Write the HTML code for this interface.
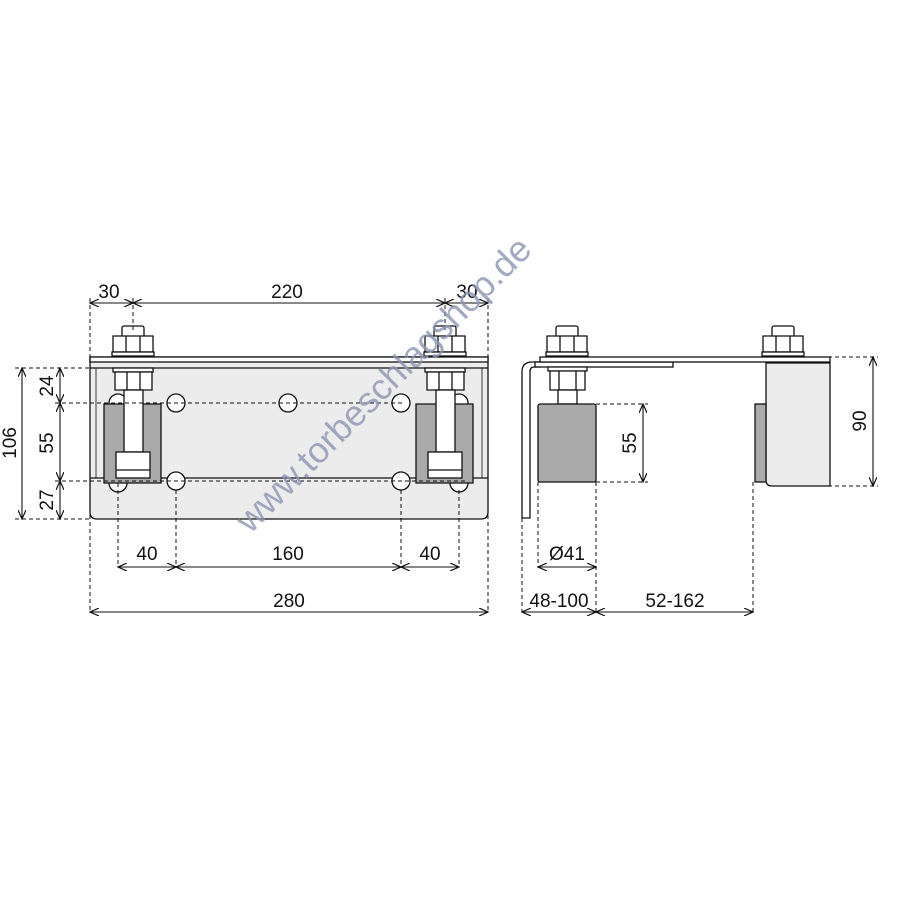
<!DOCTYPE html>
<html><head><meta charset="utf-8"><style>
html,body{margin:0;padding:0;background:#fff;width:900px;height:900px;overflow:hidden}
svg{display:block}
text{font-family:"Liberation Sans",sans-serif;font-size:19px;fill:#111}
</style></head><body>
<svg width="900" height="900" viewBox="0 0 900 900" xmlns="http://www.w3.org/2000/svg">
<defs>
<marker id="a" markerWidth="10" markerHeight="8" refX="9" refY="4" orient="auto-start-reverse" markerUnits="userSpaceOnUse"><path d="M0,0 L9,4 L0,8" fill="none" stroke="#111" stroke-width="1.2"/></marker>
<g id="nutTop">
<rect x="-11" y="-31" width="22" height="12" rx="2" fill="#fff" stroke="#111" stroke-width="1.3"/>
<path d="M-20,-21 h40 v16 h-40 z" fill="#fff" stroke="#111" stroke-width="1.3"/>
<path d="M-7,-21 v16 M7,-21 v16" stroke="#111"/>
<rect x="-21" y="-5" width="42" height="4" fill="#fff" stroke="#111"/>
</g>
</defs>
<g stroke="#111" stroke-width="1.3">
<path d="M90,357 H488 V512 Q488,519 481,519 H97 Q90,519 90,512 Z" fill="#ececec"/>
<rect x="90" y="357" width="398" height="5" fill="#fff"/>
<line x1="90" y1="368" x2="488" y2="368"/>
<line x1="90" y1="478" x2="488" y2="478"/>
<line x1="96" y1="368" x2="96" y2="478" stroke-width="0.8"/>
<line x1="482" y1="368" x2="482" y2="478" stroke-width="0.8"/>
<g fill="#fff">
<circle cx="176" cy="403" r="9"/><circle cx="288" cy="403" r="9"/><circle cx="401" cy="403" r="9"/>
<circle cx="176" cy="481" r="9"/><circle cx="401" cy="481" r="9"/>
<circle cx="118" cy="403" r="9"/><circle cx="459" cy="403" r="9"/>
<circle cx="118" cy="483" r="9"/><circle cx="459" cy="483" r="9"/>
</g>
<g id="wl">
<use href="#nutTop" x="133" y="357"/>
<rect x="113" y="368" width="40" height="4" fill="#fff"/>
<path d="M115,372 h37 v18 h-37z" fill="#fff"/>
<path d="M127,372 v18 M140,372 v18"/>
<path d="M104,404 H161 V483 H104 Z" fill="#aaa"/>
<rect x="124" y="390" width="19" height="62" fill="#fff"/>
<rect x="116" y="452" width="34" height="26" fill="#fff"/>
<line x1="116" y1="470" x2="150" y2="470"/>
</g>
<use href="#wl" x="312"/>
</g>
<g stroke="#111" stroke-width="1" stroke-dasharray="4,3" fill="none">
<path d="M90,298 V612 M133,298 V330 M445,298 V330 M488,298 V612"/>
<path d="M15,368 H90 M15,519 H90 M55,403 H405 M55,481 H465"/>
<path d="M118,483 V567 M176,490 V567 M401,490 V567 M459,490 V567"/>
<path d="M522,518 V612 M538,482 V567 M596,482 V612 M753,482 V612"/>
<path d="M596,404 H648 M596,482 H648 M828,357 H878 M828,486 H878"/>
</g>
<g stroke="#111" stroke-width="1.1" fill="none">
<line x1="90" y1="303" x2="133" y2="303" marker-start="url(#a)" marker-end="url(#a)"/>
<line x1="133" y1="303" x2="445" y2="303" marker-start="url(#a)" marker-end="url(#a)"/>
<line x1="445" y1="303" x2="488" y2="303" marker-start="url(#a)" marker-end="url(#a)"/>
<line x1="22" y1="368" x2="22" y2="519" marker-start="url(#a)" marker-end="url(#a)"/>
<line x1="60" y1="368" x2="60" y2="403" marker-start="url(#a)" marker-end="url(#a)"/>
<line x1="60" y1="403" x2="60" y2="481" marker-start="url(#a)" marker-end="url(#a)"/>
<line x1="60" y1="481" x2="60" y2="519" marker-start="url(#a)" marker-end="url(#a)"/>
<line x1="118" y1="567" x2="176" y2="567" marker-start="url(#a)" marker-end="url(#a)"/>
<line x1="176" y1="567" x2="401" y2="567" marker-start="url(#a)" marker-end="url(#a)"/>
<line x1="401" y1="567" x2="459" y2="567" marker-start="url(#a)" marker-end="url(#a)"/>
<line x1="90" y1="612" x2="488" y2="612" marker-start="url(#a)" marker-end="url(#a)"/>
<line x1="538" y1="567" x2="596" y2="567" marker-start="url(#a)" marker-end="url(#a)"/>
<line x1="522" y1="612" x2="596" y2="612" marker-start="url(#a)" marker-end="url(#a)"/>
<line x1="596" y1="612" x2="753" y2="612" marker-start="url(#a)" marker-end="url(#a)"/>
<line x1="643" y1="404" x2="643" y2="482" marker-start="url(#a)" marker-end="url(#a)"/>
<line x1="873" y1="357" x2="873" y2="486" marker-start="url(#a)" marker-end="url(#a)"/>
</g>
<g stroke="#111" stroke-width="1.3">
<path d="M530,370 V518 H522 V372 Q522,362 532,362 H540 V367 H534 Q530,367 530,372" fill="#fff"/>
<rect x="535" y="362" width="138" height="5" fill="#fff"/>
<rect x="540" y="357" width="290" height="5" fill="#fff"/>
<path d="M766,363 H830 V486 H772 Q766,486 766,480 Z" fill="#ececec"/>
<rect x="755" y="404" width="11" height="78" fill="#aaa"/>
<use href="#nutTop" x="567" y="357"/>
<use href="#nutTop" x="783" y="357"/>
<path d="M548,367 h39 v4 h-39z" fill="#fff"/>
<path d="M550,371 h35 v19 h-35z M559,371 v19 M576,371 v19" fill="#fff"/>
<rect x="558" y="390" width="19" height="14" fill="#fff"/>
<rect x="538" y="404" width="58" height="78" rx="2" fill="#aaa"/>
</g>
<text x="109" y="298" text-anchor="middle">30</text>
<text x="287" y="298" text-anchor="middle">220</text>
<text x="467" y="298" text-anchor="middle">30</text>
<text x="147" y="560" text-anchor="middle">40</text>
<text x="288" y="560" text-anchor="middle">160</text>
<text x="430" y="560" text-anchor="middle">40</text>
<text x="289" y="607" text-anchor="middle">280</text>
<text x="567" y="560" text-anchor="middle">Ø41</text>
<text x="559" y="607" text-anchor="middle">48-100</text>
<text x="675" y="607" text-anchor="middle">52-162</text>
<text transform="translate(16,443) rotate(-90)" text-anchor="middle">106</text>
<text transform="translate(53,386) rotate(-90)" text-anchor="middle">24</text>
<text transform="translate(53,443) rotate(-90)" text-anchor="middle">55</text>
<text transform="translate(53,500) rotate(-90)" text-anchor="middle">27</text>
<text transform="translate(636,443) rotate(-90)" text-anchor="middle">55</text>
<text transform="translate(866,421) rotate(-90)" text-anchor="middle">90</text>
<text transform="translate(392,393) rotate(-45)" text-anchor="middle" style="font-size:36px;fill:#8c95b3;opacity:0.8">www.torbeschlagshop.de</text>
</svg>
</body></html>
